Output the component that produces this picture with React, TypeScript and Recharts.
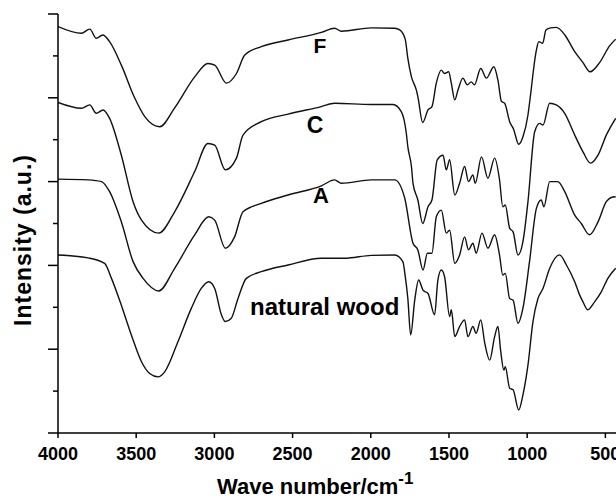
import React from "react";
import { LineChart, Line, XAxis, YAxis } from "recharts";

const FONT = '"Liberation Sans", Arial, Helvetica, sans-serif';

// tick values
const xTicks = [4000, 3500, 3000, 2500, 2000, 1500, 1000, 500];
const yTicks = [0, 1, 2, 3, 4, 5, 6, 7, 8, 9, 10];

// [wave number, intensity offset]
const seriesF: [number, number][] = [
  [4000, 9.7], [3850, 9.54], [3797, 9.64], [3755, 9.42], [3714, 9.5], [3670, 9.34],
  [3595, 8.78], [3510, 8.0], [3445, 7.55], [3349, 7.31], [3254, 7.76], [3126, 8.5],
  [3041, 8.82], [2998, 8.78], [2923, 8.35], [2859, 8.58], [2806, 9.02], [2700, 9.22],
  [2529, 9.38], [2316, 9.56], [2231, 9.66], [2188, 9.59], [1997, 9.67], [1847, 9.66],
  [1815, 9.62], [1780, 9.4], [1763, 8.94], [1740, 8.5], [1709, 8.19], [1699, 8.03],
  [1668, 7.41], [1634, 7.71], [1609, 7.79], [1581, 8.35], [1549, 8.66], [1528, 8.58],
  [1502, 8.62], [1485, 8.35], [1463, 7.95], [1442, 8.19], [1411, 8.47], [1383, 8.31],
  [1358, 8.38], [1337, 8.31], [1297, 8.7], [1261, 8.47], [1213, 8.74], [1187, 8.42],
  [1164, 7.91], [1144, 7.87], [1112, 7.43], [1087, 7.25], [1054, 6.89], [1027, 7.07],
  [995, 7.59], [985, 7.87], [941, 9.14], [926, 9.34], [901, 9.3], [880, 9.62],
  [850, 9.67], [814, 9.68], [759, 9.5], [696, 9.1], [643, 8.84], [598, 8.62],
  [537, 8.84], [473, 9.24], [434, 9.4],
];

const seriesC: [number, number][] = [
  [4000, 7.89], [3850, 7.75], [3797, 7.83], [3755, 7.63], [3712, 7.71], [3670, 7.51],
  [3595, 6.63], [3520, 5.52], [3466, 5.08], [3356, 4.77], [3254, 5.28], [3126, 6.24],
  [3041, 6.91], [2998, 6.87], [2930, 6.28], [2859, 6.56], [2817, 7.11], [2700, 7.43],
  [2529, 7.61], [2316, 7.79], [2231, 7.87], [1997, 7.84], [1858, 7.84], [1805, 7.67],
  [1773, 7.16], [1763, 6.83], [1740, 6.36], [1730, 5.96], [1699, 5.56], [1668, 5.0],
  [1634, 5.4], [1609, 5.56], [1575, 6.52], [1538, 6.63], [1517, 6.28], [1496, 6.52],
  [1463, 5.68], [1432, 5.96], [1400, 6.36], [1375, 6.0], [1347, 6.16], [1332, 5.96],
  [1292, 6.59], [1251, 6.08], [1208, 6.56], [1177, 6.05], [1156, 5.4], [1140, 5.44],
  [1112, 4.89], [1090, 4.8], [1059, 4.25], [1027, 4.57], [995, 5.52], [952, 7.19],
  [920, 7.39], [899, 7.35], [856, 7.87], [814, 7.83], [760, 7.63], [696, 7.11],
  [643, 6.71], [595, 6.44], [547, 6.63], [494, 7.11], [434, 7.51],
];

const seriesA: [number, number][] = [
  [4000, 6.06], [3808, 6.04], [3722, 6.0], [3670, 5.76], [3595, 5.04], [3520, 4.09],
  [3456, 3.69], [3356, 3.39], [3254, 3.93], [3126, 4.73], [3036, 5.16], [2998, 5.08],
  [2930, 4.41], [2871, 4.68], [2817, 5.28], [2700, 5.48], [2529, 5.68], [2316, 5.9],
  [2231, 6.04], [2188, 5.96], [1997, 6.04], [1847, 6.04], [1784, 5.62], [1730, 4.53],
  [1699, 4.37], [1666, 3.89], [1638, 4.29], [1609, 4.29], [1581, 5.16], [1549, 5.32],
  [1517, 4.77], [1496, 4.84], [1463, 4.05], [1432, 4.25], [1400, 4.68], [1375, 4.37],
  [1347, 4.53], [1326, 4.29], [1289, 4.77], [1251, 4.41], [1208, 4.73], [1177, 4.25],
  [1156, 3.77], [1140, 3.81], [1112, 3.21], [1090, 3.17], [1059, 2.62], [1027, 2.98],
  [985, 4.09], [941, 5.36], [910, 5.56], [893, 5.4], [856, 6.0], [804, 6.0],
  [760, 5.76], [696, 5.2], [654, 5.0], [601, 4.73], [547, 5.04], [494, 5.52],
  [463, 5.62], [434, 5.64],
];

const seriesWood: [number, number][] = [
  [4000, 4.25], [3808, 4.18], [3702, 4.05], [3658, 3.69], [3595, 3.05], [3531, 2.34],
  [3466, 1.7], [3414, 1.42], [3360, 1.34], [3318, 1.46], [3233, 2.18], [3147, 2.98],
  [3084, 3.45], [3036, 3.61], [2998, 3.45], [2955, 2.82], [2930, 2.66], [2892, 2.74],
  [2849, 3.21], [2796, 3.69], [2700, 3.85], [2529, 4.01], [2316, 4.17], [2168, 4.17],
  [1997, 4.24], [1847, 4.25], [1795, 4.09], [1780, 3.75], [1763, 3.21], [1745, 2.34],
  [1719, 3.17], [1694, 3.65], [1666, 3.41], [1634, 3.33], [1592, 2.82], [1571, 3.65],
  [1549, 3.89], [1528, 3.73], [1496, 2.78], [1485, 2.94], [1463, 2.3], [1432, 2.54],
  [1400, 2.7], [1379, 2.3], [1347, 2.54], [1326, 2.38], [1297, 2.7], [1271, 2.14],
  [1240, 1.74], [1208, 2.3], [1187, 2.54], [1170, 1.98], [1149, 1.5], [1140, 1.58],
  [1112, 1.07], [1090, 1.03], [1054, 0.55], [1027, 0.91], [995, 1.62], [963, 2.66],
  [931, 3.21], [899, 3.45], [856, 3.93], [793, 4.25], [749, 4.01], [696, 3.61],
  [664, 3.29], [643, 3.13], [612, 2.94], [569, 3.13], [526, 3.37], [484, 3.69],
  [434, 3.93],
];

const series = [
  { name: "F", rows: seriesF },
  { name: "C", rows: seriesC },
  { name: "A", rows: seriesA },
  { name: "natural wood", rows: seriesWood },
];

const toPoints = (rows: [number, number][]) => rows.map(([w, v]) => ({ w, v }));

const XTick = (props: any) => {
  const { x, y, payload } = props;
  return (
    <g>
      <line x1={x} x2={x} y1={y} y2={y + 5} stroke="#000" strokeWidth={1.5} />
      <text
        x={x}
        y={y + 27}
        textAnchor="middle"
        fontSize={18}
        fontWeight="bold"
        fontFamily={FONT}
        fill="#000"
      >
        {payload.value}
      </text>
    </g>
  );
};

const YTick = (props: any) => {
  const { x, y, payload } = props;
  const len = payload.value % 2 === 0 ? 10 : 5;
  return <line x1={x - len} x2={x} y1={y} y2={y} stroke="#000" strokeWidth={1.5} />;
};

const labelStyle = { fontFamily: FONT, fontWeight: "bold" as const, fill: "#000" };

export default function App() {
  return (
    <div
      style={{
        position: "relative",
        width: 616,
        height: 498,
        overflow: "hidden",
        background: "#fff",
      }}
    >
      <style>{"html,body{margin:0;padding:0;overflow:hidden;}"}</style>
      <LineChart
        width={616}
        height={498}
        margin={{ top: 14, right: 0, bottom: 35, left: 0 }}
        style={{ overflow: "hidden" }}
      >
        <XAxis
          dataKey="w"
          type="number"
          domain={[432, 4000]}
          reversed
          allowDataOverflow
          ticks={xTicks}
          interval={0}
          tickSize={0}
          tickMargin={0}
          tickLine={false}
          axisLine={{ stroke: "#000", strokeWidth: 1.5 }}
          tick={(p: any) => <XTick {...p} />}
          height={30}
        />
        <YAxis
          type="number"
          domain={[0, 10]}
          allowDataOverflow
          ticks={yTicks}
          interval={0}
          width={58}
          tickSize={0}
          tickMargin={0}
          tickLine={false}
          axisLine={{ stroke: "#000", strokeWidth: 1.5 }}
          tick={(p: any) => <YTick {...p} />}
        />
        {series.map((s) => (
          <Line
            key={s.name}
            name={s.name}
            data={toPoints(s.rows)}
            dataKey="v"
            type="monotone"
            stroke="#111"
            strokeWidth={1.4}
            dot={false}
            isAnimationActive={false}
          />
        ))}
      </LineChart>
      <svg
        width={616}
        height={498}
        style={{ position: "absolute", left: 0, top: 0, pointerEvents: "none" }}
      >
        <text x={320} y={53} textAnchor="middle" fontSize={21} {...labelStyle}>F</text>
        <text x={315} y={133} textAnchor="middle" fontSize={23} {...labelStyle}>C</text>
        <text x={321} y={203} textAnchor="middle" fontSize={22} {...labelStyle}>A</text>
        <text x={250} y={315} fontSize={24} {...labelStyle}>natural wood</text>
        <text
          x={31}
          y={240}
          textAnchor="middle"
          fontSize={23}
          letterSpacing={1}
          transform="rotate(-90, 31, 240)"
          {...labelStyle}
        >
          Intensity (a.u.)
        </text>
        <text x={217} y={494} fontSize={22} {...labelStyle}>
          Wave number/cm
          <tspan dy={-10} fontSize={17}>-1</tspan>
        </text>
      </svg>
    </div>
  );
}
